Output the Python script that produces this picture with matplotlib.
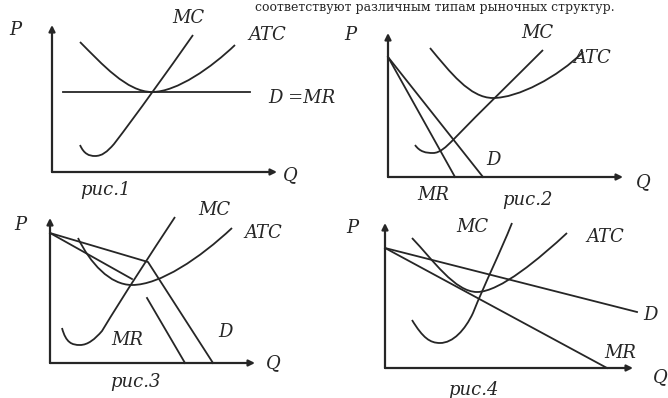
import matplotlib.pyplot as plt
from matplotlib.path import Path
from matplotlib.patches import PathPatch

# Четыре графика: рыночные структуры (местные координаты Q, P от начала осей)

ink = '#262626'

# начало осей на рисунке (пиксели) и длины осей Q, P
origins = [(52, 172), (388, 177), (50, 363), (385, 368)]
axis_len = [(225, 147), (235, 144), (205, 145), (248, 145)]

# рис.1 - совершенная конкуренция
mc1 = [(28, 27), (32, 18), (37, 16), (43, 16), (50, 16), (55, 20), (62, 28),
       (85, 58), (115, 100), (141, 137)]
atc1 = [(28, 130), (50, 108), (75, 80), (100, 80), (125, 80), (160, 105), (183, 127)]
d1_q = [11, 198]
d1_p = [80, 80]

# рис.2 - монополия
mc2 = [(27, 32), (32, 25), (38, 24), (45, 24), (52, 24), (58, 30), (65, 37),
       (95, 68), (125, 97), (155, 127)]
atc2 = [(42, 129), (62, 105), (82, 79), (105, 79), (130, 79), (170, 100), (195, 125)]
d2_q = [0, 95]
d2_p = [120, 0]
mr2_q = [0, 67]
mr2_p = [120, 0]

# рис.3 - олигополия (ломаная кривая спроса)
mc3 = [(12, 35), (16, 20), (22, 18), (30, 18), (38, 18), (45, 24), (52, 32),
       (75, 70), (100, 108), (125, 146)]
atc3 = [(28, 125), (40, 100), (60, 78), (82, 78), (110, 78), (150, 105), (182, 135)]
d3_q = [0, 98, 163]
d3_p = [130, 101, 0]
mr3a_q = [0, 82]
mr3a_p = [130, 84]
mr3b_q = [97, 135]
mr3b_p = [65, 0]

# рис.4 - монополистическая конкуренция
mc4 = [(27, 48), (38, 30), (45, 25), (55, 25), (68, 25), (80, 38), (88, 55),
       (100, 85), (115, 115), (127, 145)]
atc4 = [(27, 130), (48, 108), (70, 76), (92, 76), (115, 76), (155, 110), (182, 135)]
d4_q = [0, 252]
d4_p = [120, 56]
mr4_q = [0, 222]
mr4_p = [120, 0]

# подписи: (текст, Q, P)
labels = [
    [('P', -37, 142), ('Q', 238, -3), ('рис.1', 53, -18), ('MC', 136, 154),
     ('ATC', 215, 137), ('D =MR', 250, 74)],
    [('P', -38, 142), ('Q', 255, -5), ('MR', 45, -18), ('D', 105, 17),
     ('рис.2', 139, -23), ('MC', 149, 144), ('ATC', 204, 119)],
    [('P', -30, 138), ('Q', 223, 0), ('рис.3', 85, -19), ('MC', 164, 153),
     ('ATC', 213, 130), ('MR', 77, 23), ('D', 175, 31)],
    [('P', -33, 140), ('Q', 275, -9), ('рис.4', 88, -22), ('MC', 87, 141),
     ('ATC', 220, 131), ('D', 265, 53), ('MR', 235, 15)],
]


def bezier(ax, pts):
    codes = [Path.MOVETO] + [Path.CURVE4] * (len(pts) - 1)
    ax.add_patch(PathPatch(Path(pts, codes), fill=False, lw=1.3, ec=ink))


fig = plt.figure(figsize=(6.68, 3.98), dpi=100)
W, H = 668, 398

axes = []
for (x0, y0), (qa, pa) in zip(origins, axis_len):
    ax = fig.add_axes([(x0 - 60) / W, (H - y0 - 30) / H, 340 / W, 210 / H])
    ax.set_xlim(-60, 280)
    ax.set_ylim(-30, 180)
    ax.axis('off')
    arrow = dict(arrowstyle='-|>', color=ink, lw=1.6, mutation_scale=9,
                 shrinkA=0, shrinkB=0)
    ax.annotate('', xy=(0, pa), xytext=(0, 0), arrowprops=arrow)
    ax.annotate('', xy=(qa, 0), xytext=(0, 0), arrowprops=arrow)
    axes.append(ax)

line = dict(color=ink, lw=1.3)

bezier(axes[0], mc1)
bezier(axes[0], atc1)
axes[0].plot(d1_q, d1_p, **line)

bezier(axes[1], mc2)
bezier(axes[1], atc2)
axes[1].plot(d2_q, d2_p, **line)
axes[1].plot(mr2_q, mr2_p, **line)

bezier(axes[2], mc3)
bezier(axes[2], atc3)
axes[2].plot(d3_q, d3_p, **line)
axes[2].plot(mr3a_q, mr3a_p, **line)
axes[2].plot(mr3b_q, mr3b_p, **line)

bezier(axes[3], mc4)
bezier(axes[3], atc4)
axes[3].plot(d4_q, d4_p, **line)
axes[3].plot(mr4_q, mr4_p, **line)

for ax, lab in zip(axes, labels):
    for txt, q, p in lab:
        ax.text(q, p, txt, fontsize=13, style='italic', family='DejaVu Serif',
                color=ink, ha='center', va='center')

# строка текста сверху (в оригинале срезана краем)
fig.text(615 / W, 1 - 1 / H, 'соответствуют различным типам рыночных структур.',
         fontsize=9, family='DejaVu Serif', color=ink, ha='right', va='top')

fig.savefig('out.png', dpi=100, facecolor='white')
